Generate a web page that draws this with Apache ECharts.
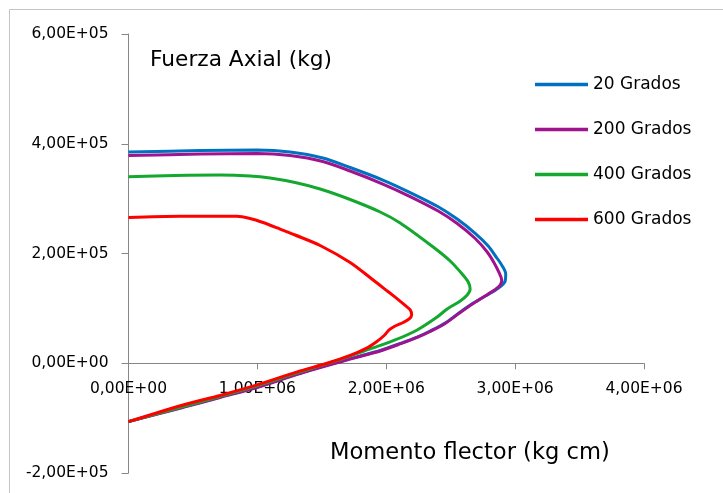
<!DOCTYPE html>
<html>
<head>
<meta charset="utf-8">
<script src="https://cdn.jsdelivr.net/npm/echarts@6/dist/echarts.min.js"></script>
<style>
  html, body { margin: 0; padding: 0; background: #ffffff; }
  #chart { width: 723px; height: 493px; }
</style>
</head>
<body>
<div id="chart"></div>
<script>
// ---- Data (Momento flector in kg cm, Fuerza axial in kg) ----
const seriesNames = ['20 Grados', '200 Grados', '400 Grados', '600 Grados'];

const m20 = [0, 555100, 997700, 1253900, 1507800, 1719800, 1973600, 2185600, 2403000, 2550500, 2690200, 2791100, 2853300, 2899900, 2927000, 2923000, 2892000, 2838000, 2675000, 2574000, 2457000, 2341000, 2240000, 2108000, 1953000, 1797000, 1642000, 1332000, 997700, 710400, 423100, 0];
const f20 = [384900, 387600, 388500, 384900, 374000, 356700, 333900, 311100, 285200, 262800, 236800, 213700, 193600, 177400, 162600, 149900, 140800, 131700, 109700, 93300, 73300, 58800, 47800, 36100, 23300, 13300, 3300, -17700, -43200, -61400, -79600, -106400];

const m200 = [0, 555100, 997700, 1253900, 1507800, 1719800, 1973600, 2185600, 2403000, 2550500, 2690200, 2783300, 2837600, 2876400, 2896000, 2884000, 2846000, 2791000, 2675000, 2574000, 2457000, 2341000, 2240000, 2108000, 1953000, 1797000, 1642000, 1332000, 997700, 710400, 423100, 0];
const f200 = [378500, 381200, 382200, 378500, 367600, 350300, 326600, 303800, 277400, 254600, 227300, 202700, 182700, 164500, 151700, 142600, 134400, 126200, 108900, 92500, 72500, 57900, 47000, 35200, 22400, 12400, 2400, -18600, -44100, -62300, -80500, -106400];

const m400 = [0, 361000, 710400, 943300, 1098600, 1292700, 1486800, 1719800, 1952700, 2108000, 2364000, 2496000, 2589000, 2636000, 2651000, 2628000, 2574000, 2473000, 2395000, 2240000, 2069000, 1898000, 1759000, 1642000, 1332000, 997700, 710400, 423100, 0];
const f400 = [339900, 342100, 343000, 341200, 337500, 329300, 317500, 298400, 275600, 255600, 211800, 186300, 162600, 148100, 135300, 124400, 113500, 98900, 84300, 60700, 42400, 27900, 16900, 6900, -15800, -41300, -60500, -78700, -106400];

const m600 = [0, 399800, 840000, 943300, 1044200, 1176200, 1292700, 1486800, 1719800, 1898300, 1984000, 2069000, 2147000, 2186000, 2197000, 2178000, 2131000, 2069000, 2022000, 1984000, 1922000, 1844000, 1720000, 1541000, 1332000, 997700, 710400, 423100, 0];
const f600 = [265600, 267900, 267800, 263800, 256500, 244600, 233700, 214600, 183600, 151700, 136000, 120500, 105300, 97100, 88000, 80700, 74300, 67900, 60700, 50600, 38800, 27000, 14200, 0, -14000, -39500, -58700, -76000, -106400];

const xTickValues = [0, 1000000, 2000000, 3000000, 4000000];
const xTickLabels = ['0,00E+00', '1,00E+06', '2,00E+06', '3,00E+06', '4,00E+06'];
const yTickValues = [-200000, 0, 200000, 400000, 600000];
const yTickLabels = ['-2,00E+05', '0,00E+00', '2,00E+05', '4,00E+05', '6,00E+05'];

const xTitle = 'Momento flector (kg cm)';
const yTitle = 'Fuerza Axial (kg)';

// ---- Build ----
const colors = ['#0070C0', '#A0138E', '#14A82E', '#FF0000'];
const xs = [m20, m200, m400, m600];
const ys = [f20, f200, f400, f600];
const FONT = 'DejaVu Sans';

function zip(a, b) { return a.map((v, i) => [v, b[i]]); }
function lookup(vals, labels, v) {
  const i = vals.findIndex(t => Math.abs(t - v) < 1e-6);
  return i >= 0 ? labels[i] : '';
}

const W = 723, H = 493;
const gridTop = 34, gridBottom = 20;
const yMin = yTickValues[0], yMax = yTickValues[yTickValues.length - 1];
const plotH = H - gridTop - gridBottom;
// move the x axis up to the y = 0 line
const xAxisOffset = -plotH * (0 - yMin) / (yMax - yMin);

const chart = echarts.init(document.getElementById('chart'), null, { renderer: 'canvas' });

const option = {
  animation: false,
  backgroundColor: '#ffffff',
  grid: { left: 128.5, right: 79, top: gridTop, bottom: gridBottom, containLabel: false, outerBoundsMode: 'none' },
  xAxis: {
    type: 'value', min: 0, max: 4000000, interval: 1000000,
    position: 'bottom', offset: xAxisOffset,
    axisLine: { show: true, onZero: false, lineStyle: { color: '#868686', width: 1 } },
    axisTick: { show: true, length: 6, lineStyle: { color: '#868686' } },
    splitLine: { show: false },
    axisLabel: {
      margin: 18, color: '#000', fontFamily: FONT, fontSize: 15.5,
      formatter: v => lookup(xTickValues, xTickLabels, v)
    }
  },
  yAxis: {
    type: 'value', min: yMin, max: yMax, interval: 200000,
    axisLine: { show: true, onZero: false, lineStyle: { color: '#868686', width: 1 } },
    axisTick: { show: true, length: 7, lineStyle: { color: '#868686' } },
    splitLine: { show: false },
    axisLabel: {
      margin: 20, color: '#000', fontFamily: FONT, fontSize: 15.5,
      formatter: v => lookup(yTickValues, yTickLabels, v)
    }
  },
  legend: {
    orient: 'vertical', left: 535, top: 76, padding: 0,
    icon: 'rect', itemWidth: 53, itemHeight: 3.5, itemGap: 28,
    textStyle: { color: '#000', fontFamily: FONT, fontSize: 17 },
    data: seriesNames
  },
  graphic: [
    { type: 'rect', silent: true, z: -10,
      shape: { x: 9.5, y: 9.5, width: 800, height: 600 },
      style: { fill: 'none', stroke: '#c4c4c4', lineWidth: 1 } },
    { type: 'text', left: 150, top: 49,
      style: { text: yTitle, fill: '#000', font: '21.7px "DejaVu Sans"' } },
    { type: 'text', left: 330, top: 442,
      style: { text: xTitle, fill: '#000', font: '22.6px "DejaVu Sans"' } }
  ],
  series: seriesNames.map((name, k) => ({
    name: name,
    type: 'line',
    data: zip(xs[k], ys[k]),
    symbol: 'none',
    showSymbol: false,
    smooth: 0.3,
    color: colors[k],
    itemStyle: { color: colors[k] },
    lineStyle: { color: colors[k], width: 3 },
    z: 2 + k
  }))
};

chart.setOption(option);
</script>
</body>
</html>
